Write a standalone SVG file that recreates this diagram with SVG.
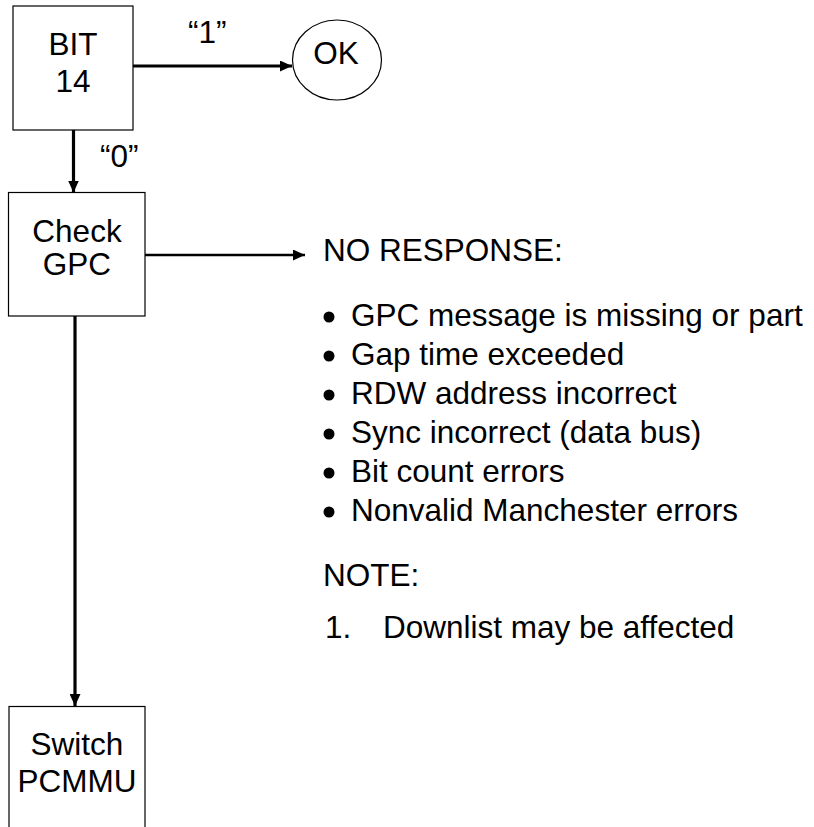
<svg xmlns="http://www.w3.org/2000/svg" width="814" height="827" viewBox="0 0 814 827">
<style>
text{font-family:"Liberation Sans",Arial,sans-serif;font-size:31.5px;fill:#000}
.c{text-anchor:middle}
.box{fill:#fff;stroke:#000;stroke-width:1.2}
.conn{stroke:#000;fill:none}
</style>
<defs>
<marker id="ah" markerWidth="12" markerHeight="11" refX="12" refY="5.5" orient="auto" markerUnits="userSpaceOnUse">
<path d="M0,0 L12,5.5 L0,11 Z" fill="#000"/>
</marker>
</defs>
<rect width="814" height="827" fill="#fff"/>
<g id="connectors">
<line class="conn" x1="132" y1="66" x2="292" y2="66" stroke-width="3.2" marker-end="url(#ah)"/>
<line class="conn" x1="73.5" y1="130" x2="73.5" y2="192.5" stroke-width="3.2" marker-end="url(#ah)"/>
<line class="conn" x1="145" y1="255" x2="305" y2="255" stroke-width="2.6" marker-end="url(#ah)"/>
<line class="conn" x1="75" y1="316" x2="75" y2="706" stroke-width="3.2" marker-end="url(#ah)"/>
<text x="188" y="43">“1”</text>
<text x="100" y="167">“0”</text>
</g>
<g id="bit14">
<rect class="box" x="13" y="6" width="120" height="124"/>
<text class="c" x="73" y="55">BIT</text>
<text class="c" x="73" y="92">14</text>
</g>
<g id="ok">
<ellipse class="box" cx="337" cy="60" rx="44.5" ry="40"/>
<text class="c" x="336" y="64">OK</text>
</g>
<g id="checkgpc">
<rect class="box" x="8.5" y="192.5" width="136.5" height="123.5"/>
<text class="c" x="77" y="242">Check</text>
<text class="c" x="77" y="275">GPC</text>
</g>
<g id="switchpcmmu">
<rect class="box" x="9" y="706.5" width="136" height="130"/>
<text class="c" x="77" y="755">Switch</text>
<text class="c" x="77" y="792">PCMMU</text>
</g>
<g id="noresponse">
<text x="323" y="261">NO RESPONSE:</text>
<g>
<circle cx="329" cy="317" r="5.5"/>
<circle cx="329" cy="356" r="5.5"/>
<circle cx="329" cy="395" r="5.5"/>
<circle cx="329" cy="434" r="5.5"/>
<circle cx="329" cy="473" r="5.5"/>
<circle cx="329" cy="512" r="5.5"/>
</g>
<text x="351" y="326">GPC message is missing or part</text>
<text x="351" y="365">Gap time exceeded</text>
<text x="351" y="404">RDW address incorrect</text>
<text x="351" y="443">Sync incorrect (data bus)</text>
<text x="351" y="482">Bit count errors</text>
<text x="351" y="521">Nonvalid Manchester errors</text>
<text x="323" y="586">NOTE:</text>
<text x="325" y="638">1.</text>
<text x="383" y="638">Downlist may be affected</text>
</g>
</svg>
